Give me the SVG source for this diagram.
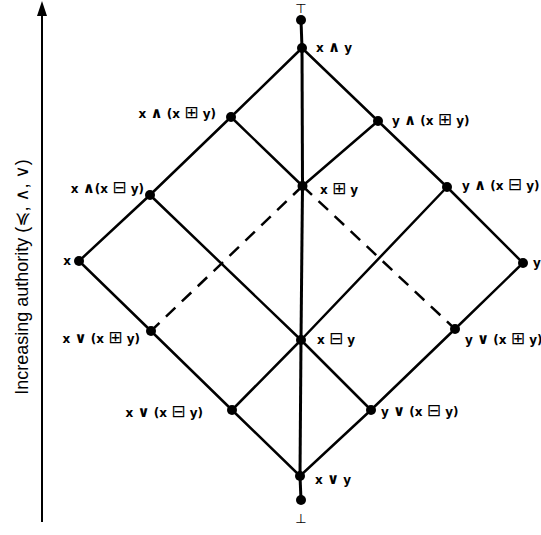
<svg xmlns="http://www.w3.org/2000/svg" width="541" height="535" viewBox="0 0 541 535">
<style>
.e{stroke:#000;stroke-width:2.5;fill:none;stroke-linecap:round}
.v{stroke:#000;stroke-width:3;fill:none}
.d{stroke:#000;stroke-width:2.5;fill:none;stroke-dasharray:13 9}
.n{fill:#000}
.t{font-family:"DejaVu Sans","Liberation Sans",sans-serif;font-weight:bold;font-size:12px;fill:#000}
.o{font-size:15px}
.b{font-weight:normal;font-size:17px}
.s{font-family:"DejaVu Sans","Liberation Sans",sans-serif;font-size:13px;fill:#000}
.ax{font-family:"Liberation Sans","DejaVu Sans",sans-serif;font-size:18px;fill:#000}
</style>
<rect width="541" height="535" fill="#fff"/>
<g id="axis">
<line x1="42" y1="522" x2="42" y2="14" stroke="#000" stroke-width="2"/>
<path d="M37,16 L42,1 L47,16 Z" fill="#000"/>
<text class="ax" transform="translate(28,277) rotate(-90)" text-anchor="middle">Increasing authority (≼, ∧, ∨)</text>
</g>
<g id="connectors">
<line class="v" x1="301" y1="20" x2="302" y2="48"/>
<line class="v" x1="302" y1="48" x2="302.5" y2="186"/>
<line class="v" x1="302.5" y1="186" x2="301" y2="340"/>
<line class="v" x1="301" y1="340" x2="300" y2="476"/>
<line class="v" x1="300" y1="476" x2="301" y2="500"/>
<polyline class="e" points="302,48 231,117 150,195 79,261 151,331 232,410 300,476 371,410 455,329 523,263 447,187 378,121 302,48"/>
<line class="e" x1="231" y1="117" x2="302.5" y2="186"/>
<line class="e" x1="378" y1="121" x2="302.5" y2="186"/>
<line class="e" x1="150" y1="195" x2="301" y2="340"/>
<line class="e" x1="301" y1="340" x2="371" y2="410"/>
<line class="e" x1="447" y1="187" x2="301" y2="340"/>
<line class="e" x1="301" y1="340" x2="232" y2="410"/>
<line class="d" x1="302.5" y1="186" x2="151" y2="331"/>
<line class="d" x1="302.5" y1="186" x2="455" y2="329"/>
</g>
<g id="top"><circle class="n" cx="301" cy="20" r="5"/><text class="s" x="301" y="13" text-anchor="middle">⊤</text></g>
<g id="xmeety"><circle class="n" cx="302" cy="48" r="5"/><text class="t" x="316" y="52">x <tspan class="o">∧</tspan> y</text></g>
<g id="x_meet_xpy"><circle class="n" cx="231" cy="117" r="5"/><text class="t" x="216" y="118" text-anchor="end">x <tspan class="o">∧</tspan> (x <tspan class="b">⊞</tspan> y)</text></g>
<g id="y_meet_xpy"><circle class="n" cx="378" cy="121" r="5"/><text class="t" x="392" y="125">y <tspan class="o">∧</tspan> (x <tspan class="b">⊞</tspan> y)</text></g>
<g id="x_meet_xmy"><circle class="n" cx="150" cy="195" r="5"/><text class="t" x="144" y="193" text-anchor="end">x <tspan class="o">∧</tspan>(x <tspan class="b">⊟</tspan> y)</text></g>
<g id="xpy"><circle class="n" cx="302.5" cy="186" r="5"/><text class="t" x="320" y="194">x <tspan class="b">⊞</tspan> y</text></g>
<g id="y_meet_xmy"><circle class="n" cx="447" cy="187" r="5"/><text class="t" x="462" y="190">y <tspan class="o">∧</tspan> (x <tspan class="b">⊟</tspan> y)</text></g>
<g id="x"><circle class="n" cx="79" cy="261" r="5"/><text class="t" x="71" y="265" text-anchor="end">x</text></g>
<g id="y"><circle class="n" cx="523" cy="263" r="5"/><text class="t" x="533" y="267">y</text></g>
<g id="x_join_xpy"><circle class="n" cx="151" cy="331" r="5"/><text class="t" x="140" y="343" text-anchor="end">x <tspan class="o">∨</tspan> (x <tspan class="b">⊞</tspan> y)</text></g>
<g id="xmy"><circle class="n" cx="301" cy="340" r="5"/><text class="t" x="317" y="344">x <tspan class="b">⊟</tspan> y</text></g>
<g id="y_join_xpy"><circle class="n" cx="455" cy="329" r="5"/><text class="t" x="465" y="344">y <tspan class="o">∨</tspan> (x <tspan class="b">⊞</tspan> y)</text></g>
<g id="x_join_xmy"><circle class="n" cx="232" cy="410" r="5"/><text class="t" x="203" y="417" text-anchor="end">x <tspan class="o">∨</tspan> (x <tspan class="b">⊟</tspan> y)</text></g>
<g id="y_join_xmy"><circle class="n" cx="371" cy="410" r="5"/><text class="t" x="381" y="416">y <tspan class="o">∨</tspan> (x <tspan class="b">⊟</tspan> y)</text></g>
<g id="xjoiny"><circle class="n" cx="300" cy="476" r="5"/><text class="t" x="315" y="484">x <tspan class="o">∨</tspan> y</text></g>
<g id="bottom"><circle class="n" cx="301" cy="500" r="5"/><text class="s" x="301" y="523" text-anchor="middle">⊥</text></g>
</svg>
